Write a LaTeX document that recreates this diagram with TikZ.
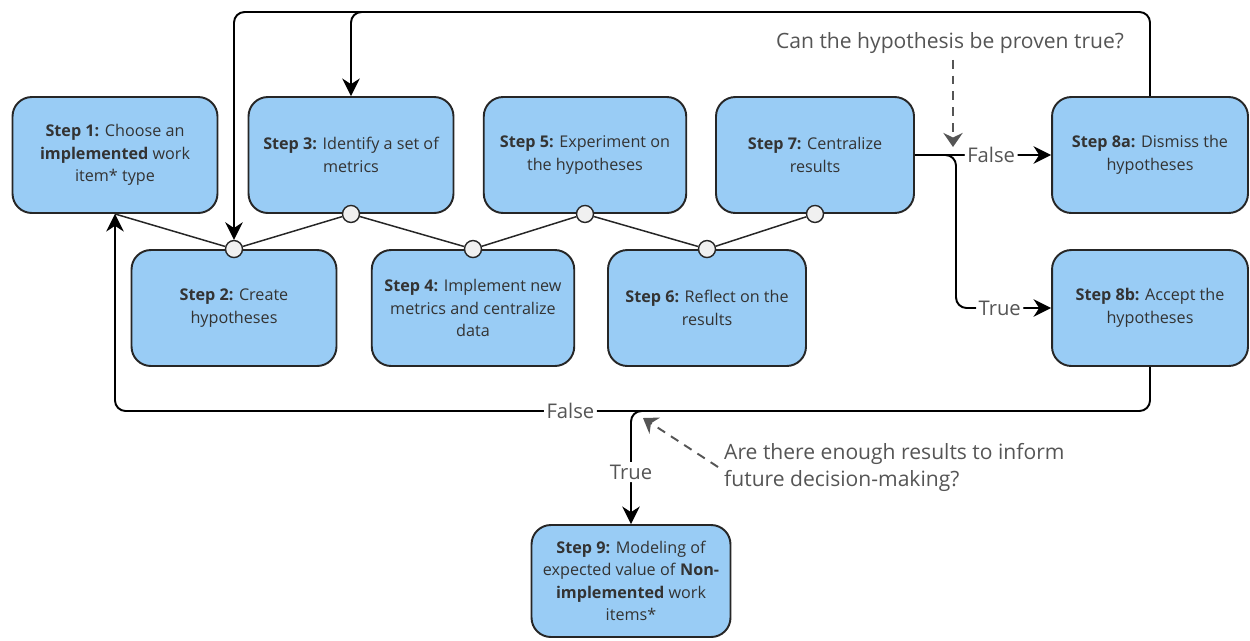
\documentclass[tikz,border=0pt]{standalone}
\usepackage{fontspec}
\setmainfont{Open Sans}
\usetikzlibrary{arrows.meta,positioning}
\definecolor{boxblue}{RGB}{153,204,245}
\definecolor{labelgray}{RGB}{85,85,85}
\definecolor{textdark}{RGB}{51,51,51}
\definecolor{hingefill}{RGB}{240,240,240}

\begin{document}
\begin{tikzpicture}[
      x=0.02cm, y=-0.02cm,
      font=\fontsize{9.2}{12.8}\selectfont,
      stepbox/.style={draw=black!85, line width=1.1pt, rounded corners=11pt,
        fill=boxblue, text=textdark, align=center, minimum height=2.32cm,
        minimum width=4.05cm, inner sep=2pt},
      hinge/.style={circle, draw=black!85, fill=hingefill, line width=0.8pt,
        minimum size=0.34cm, inner sep=0pt},
      tie/.style={draw=black!85, line width=0.85pt},
      flowarrow/.style={draw=black, line width=1.1pt, rounded corners=6pt,
        -{Stealth[length=10pt,width=10pt]}},
      condlabel/.style={text=labelgray, font=\fontsize{11.5}{14}\selectfont,
        fill=white, inner sep=1.5pt},
      question/.style={text=labelgray, font=\fontsize{12}{15.4}\selectfont},
      askarrow/.style={draw=labelgray, line width=1.1pt, dash pattern=on 5pt off 4pt,
        -{Stealth[length=8pt,width=11pt,fill=labelgray]}}
    ]
    \useasboundingbox (0,0) rectangle (1250,640);

    % top row
    \node[stepbox, minimum width=4.1cm] (s1) at (115,155) {
      \textbf{Step 1:} Choose an\\
      \textbf{implemented} work\\
      item* type};
    \node[stepbox, minimum width=4.1cm] (s3) at (351,155) {
      \textbf{Step 3:} Identify a set of\\
      metrics};
    \node[stepbox] (s5) at (585,155) {
      \textbf{Step 5:} Experiment on\\
      the hypotheses};
    \node[stepbox, minimum width=3.96cm] (s7) at (815,155) {
      \textbf{Step 7:} Centralize\\
      results};
    \node[stepbox, minimum width=3.92cm] (s8a) at (1150,155) {
      \textbf{Step 8a:} Dismiss the\\
      hypotheses};

    % bottom row
    \node[stepbox, minimum width=4.1cm] (s2) at (234,308) {
      \textbf{Step 2:} Create\\
      hypotheses};
    \node[stepbox] (s4) at (473,308) {
      \textbf{Step 4:} Implement new\\
      metrics and centralize\\
      data};
    \node[stepbox, minimum width=3.96cm] (s6) at (707,308) {
      \textbf{Step 6:} Reflect on the\\
      results};
    \node[stepbox, minimum width=3.92cm] (s8b) at (1150,308) {
      \textbf{Step 8b:} Accept the\\
      hypotheses};

    \node[stepbox, minimum width=3.98cm, minimum height=2.24cm] (s9) at (631,581) {
      \textbf{Step 9:} Modeling of\\
      expected value of \textbf{Non-}\\
      \textbf{implemented} work\\
      items*};

    % joints between the rows
    \node[hinge] (c2) at (s2.north) {};
    \node[hinge] (c3) at (s3.south) {};
    \node[hinge] (c4) at (s4.north) {};
    \node[hinge] (c5) at (s5.south) {};
    \node[hinge] (c6) at (s6.north) {};
    \node[hinge] (c7) at (s7.south) {};
    \draw[tie] (s1.south) -- (c2) -- (c3) -- (c4) -- (c5) -- (c6) -- (c7);

    \coordinate (topline) at (0,12);
    \coordinate (botline) at (0,411);
    \coordinate (split) at (956,155);

    % loop back over the top
    \draw[flowarrow] (s8a.north) |- (c2 |- topline) -- (c2);
    \draw[flowarrow] (s5.north |- topline) -| (s3.north);

    % hypothesis decision
    \draw[flowarrow] (s7.east) -- node[condlabel, pos=0.56] {False} (s8a.west);
    \draw[flowarrow] (s7.east) -- (split) |- node[condlabel, pos=0.73] {True} (s8b.west);
    \node[question] (q1) at (950,43) {Can the hypothesis be proven true?};
    \coordinate (q1tip) at (953,147);
    \draw[askarrow] (q1.south -| q1tip) -- (q1tip);

    % results decision
    \draw[flowarrow] (s8b.south) |- node[condlabel, pos=0.78] {False} (s1.south |- botline) -- (s1.south);
    \draw[flowarrow] (s6.south |- botline) -| node[condlabel, pos=0.77] {True} (s9.north);
    \node[question, anchor=west, align=left] (q2) at (718,467) {
      Are there enough results to inform\\
      future decision-making?};
    \coordinate (q2tip) at (643,418);
    \draw[askarrow] (q2.west) -- (q2tip);
  \end{tikzpicture}
\end{document}
